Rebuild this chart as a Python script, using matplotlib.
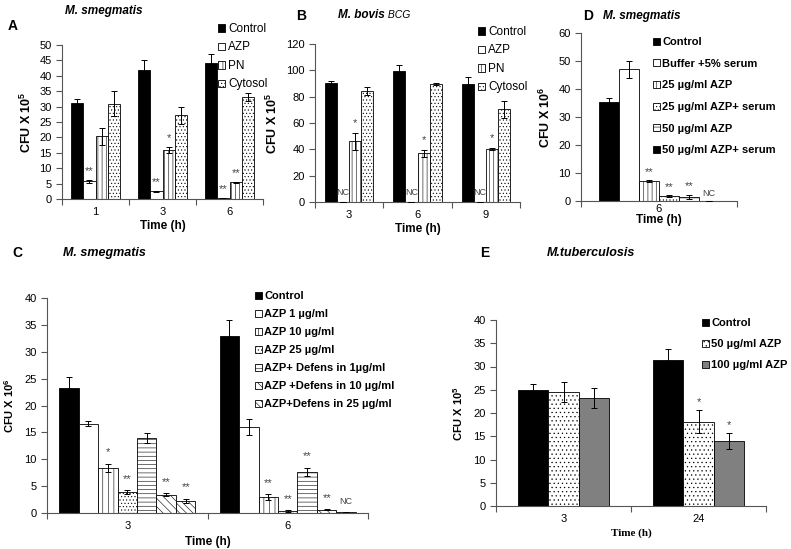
import numpy as np
import matplotlib
matplotlib.use("Agg")
import matplotlib.pyplot as plt

plt.rcParams['font.family'] = ['Liberation Sans', 'DejaVu Sans']
plt.rcParams['mathtext.fontset'] = 'custom'
plt.rcParams['mathtext.rm'] = 'Liberation Sans'
plt.rcParams['mathtext.bf'] = 'Liberation Sans:bold'
plt.rcParams['hatch.linewidth'] = 0.4

# ---------------- data ----------------
# A - M. smegmatis
a_times = ['1', '3', '6']
a_series = ['Control', 'AZP', 'PN', 'Cytosol']
a_vals = [[31.3, 42.0, 44.2], [5.8, 2.5, 0.3], [20.3, 15.8, 5.4], [31.0, 27.2, 33.2]]
a_errs = [[1.3, 3.0, 3.0], [0.5, 0.2, 0.0], [2.7, 1.0, 0.2], [4.2, 2.8, 1.3]]
a_sig = [['', '', ''], ['**', '**', '**'], ['', '*', '**'], ['', '', '']]

# B - M. bovis BCG
b_times = ['3', '6', '9']
b_series = ['Control', 'AZP', 'PN', 'Cytosol']
b_vals = [[90.5, 99.5, 89.5], [0, 0, 0], [46.0, 37.0, 40.3], [84.5, 89.5, 70.5]]
b_errs = [[1.5, 4.5, 5.5], [0, 0, 0], [6.5, 2.5, 0.5], [3.0, 1.0, 6.5]]
b_sig = [['', '', ''], ['NC', 'NC', 'NC'], ['*', '*', '*'], ['', '', '']]

# D - M. smegmatis, serum
d_times = ['6']
d_series = ['Control', 'Buffer +5% serum', '25 µg/ml AZP', '25 µg/ml AZP+ serum',
            '50 µg/ml AZP', '50 µg/ml AZP+ serum']
d_vals = [[35.5], [47.0], [7.2], [1.8], [1.5], [0]]
d_errs = [[1.3], [3.0], [0.3], [0.2], [0.7], [0]]
d_sig = [[''], [''], ['**'], ['**'], ['**'], ['NC']]

# C - M. smegmatis, defensin
c_times = ['3', '6']
c_series = ['Control', 'AZP 1 µg/ml', 'AZP 10 µg/ml', 'AZP 25 µg/ml',
            'AZP+ Defens in 1µg/ml', 'AZP +Defens in 10 µg/ml', 'AZP+Defens in 25 µg/ml']
c_vals = [[23.3, 33.0], [16.6, 16.0], [8.4, 3.0], [3.9, 0.3],
          [13.9, 7.6], [3.4, 0.6], [2.2, 0.1]]
c_errs = [[2.0, 3.0], [0.5, 1.4], [0.8, 0.5], [0.3, 0.2],
          [0.9, 0.8], [0.3, 0.1], [0.4, 0.0]]
c_sig = [['', ''], ['', ''], ['*', '**'], ['**', '**'], ['', '**'], ['**', '**'], ['**', 'NC']]

# E - M. tuberculosis
e_times = ['3', '24']
e_series = ['Control', '50 µg/ml AZP', '100 µg/ml AZP']
e_vals = [[25.0, 31.5], [24.5, 18.1], [23.2, 14.0]]
e_errs = [[1.2, 2.3], [2.1, 2.5], [2.1, 1.7]]
e_sig = [['', ''], ['', '*'], ['', '*']]

W, H = 791, 549
fig = plt.figure(figsize=(W / 100, H / 100), dpi=100)


def px_axes(l, t, r, b):
    return fig.add_axes([l / W, 1 - b / H, (r - l) / W, (b - t) / H])


def bar_panel(ax, times, series, vals, errs, sig, styles, frac, ymax, ystep, sig_pad):
    n = len(series)
    k = len(times)
    w = frac / n
    x = np.arange(k)
    for j in range(n):
        fc, hatch = styles[j]
        pos = x + (j - (n - 1) / 2) * w
        ax.bar(pos, vals[j], w, color=fc, edgecolor='black', hatch=hatch,
               linewidth=0.6, label=series[j], zorder=2)
        ax.errorbar(pos, vals[j], yerr=errs[j], fmt='none', ecolor='black',
                    elinewidth=0.7, capsize=2.5, capthick=0.7, zorder=3)
        for i in range(k):
            if sig[j][i]:
                nc = sig[j][i] == 'NC'
                ax.text(pos[i], vals[j][i] + errs[j][i] + sig_pad, sig[j][i],
                        ha='center', va='bottom', fontsize=6.5 if nc else 8,
                        color='#444444')
    ax.set_xlim(-0.5, k - 0.5)
    ax.set_ylim(0, ymax)
    ax.set_yticks(np.arange(0, ymax + 0.01, ystep))
    ax.set_xticks(np.arange(-0.5, k, 1.0))
    ax.set_xticklabels([])
    ax.set_xticks(x, minor=True)
    ax.set_xticklabels(times, minor=True)
    ax.tick_params(axis='x', which='major', length=4, direction='out', color='#555555')
    ax.tick_params(axis='x', which='minor', length=0, labelsize=8, pad=6)
    ax.tick_params(axis='y', length=4, labelsize=8, color='#555555')
    for s in ['top', 'right']:
        ax.spines[s].set_visible(False)
    for s in ['left', 'bottom']:
        ax.spines[s].set_color('#555555')
        ax.spines[s].set_linewidth(0.8)


def legend_at(ax, x, y, spacing, fontsize, bold=False):
    leg = ax.legend(loc='upper left', bbox_to_anchor=(x / W, 1 - y / H),
                    bbox_transform=fig.transFigure, frameon=False,
                    handlelength=0.6, handleheight=0.6, handletextpad=0.25,
                    labelspacing=spacing, fontsize=fontsize, borderaxespad=0,
                    borderpad=0)
    if bold:
        for t in leg.get_texts():
            t.set_fontweight('bold')
    return leg


black = ('black', None)
white = ('white', None)

# ---------------- A ----------------
axA = px_axes(62, 45, 263, 199)
bar_panel(axA, a_times, a_series, a_vals, a_errs, a_sig,
          [black, white, ('white', '||||'), ('white', '.....')], 0.74, 50, 5, 1.2)
axA.set_ylabel('CFU X 10$^{\\mathbf{5}}$', fontsize=9, fontweight='bold', labelpad=4)
axA.set_xlabel('Time (h)', fontsize=8.5, fontweight='bold', labelpad=2)
legend_at(axA, 218, 23, 0.55, 8.5)
fig.text(104 / W, 1 - 11 / H, 'M. smegmatis', fontsize=8.5, fontweight='bold',
         style='italic', ha='center', va='center')
fig.text(8 / W, 1 - 26 / H, 'A', fontsize=10, fontweight='bold', va='center')

# ---------------- B ----------------
axB = px_axes(315, 44, 520, 202)
bar_panel(axB, b_times, b_series, b_vals, b_errs, b_sig,
          [black, white, ('white', '||||'), ('white', '.....')], 0.71, 120, 20, 4.0)
axB.set_ylabel('CFU X 10$^{\\mathbf{5}}$', fontsize=9, fontweight='bold', labelpad=4)
axB.set_xlabel('Time (h)', fontsize=8.5, fontweight='bold', labelpad=2)
legend_at(axB, 478, 26, 0.55, 8.5)
fig.text(301 / W, 1 - 16 / H, 'B', fontsize=10, fontweight='bold', va='center', ha='center')
tb = fig.text(338 / W, 1 - 15 / H, 'M. bovis', fontsize=8.5, fontweight='bold',
              style='italic', va='center')
axB.annotate(' BCG', xy=(1, 0.5), xycoords=tb, va='center', fontsize=7.5, style='italic')

# ---------------- D ----------------
axD = px_axes(581, 33, 737, 201)
bar_panel(axD, d_times, d_series, d_vals, d_errs, d_sig,
          [black, white, ('white', '||||'), ('white', '.....'), ('white', '----'), black],
          0.77, 60, 10, 1.2)
axD.set_ylabel('CFU X 10$^{\\mathbf{6}}$', fontsize=9, fontweight='bold', labelpad=4)
axD.set_xlabel('Time (h)', fontsize=8.5, fontweight='bold', labelpad=0)
axD.tick_params(axis='x', which='minor', pad=2)
legend_at(axD, 653, 37, 1.05, 8, bold=True)
fig.text(588 / W, 1 - 16 / H, 'D', fontsize=10, fontweight='bold', va='center', ha='center')
fig.text(603 / W, 1 - 16 / H, 'M. smegmatis', fontsize=8.5, fontweight='bold',
         style='italic', va='center')

# ---------------- C ----------------
axC = px_axes(47, 298, 368, 513)
bar_panel(axC, c_times, c_series, c_vals, c_errs, c_sig,
          [black, white, ('white', '|||'), ('white', '.....'), ('white', '----'),
           ('white', '\\\\\\\\'), ('white', '\\\\\\\\\\')], 0.85, 40, 5, 1.2)
axC.set_ylabel('CFU X 10$^{\\mathbf{6}}$', fontsize=8, fontweight='bold', labelpad=6)
axC.set_xlabel('Time (h)', fontsize=8.5, fontweight='bold', labelpad=3)
legend_at(axC, 255, 291, 0.72, 8, bold=True)
fig.text(12 / W, 1 - 253 / H, 'C', fontsize=10, fontweight='bold', va='center')
fig.text(63 / W, 1 - 253 / H, 'M. smegmatis', fontsize=9, fontweight='bold',
         style='italic', va='center')

# ---------------- E ----------------
axE = px_axes(496, 320, 766, 506)
bar_panel(axE, e_times, e_series, e_vals, e_errs, e_sig,
          [black, ('white', '....'), ('#808080', None)], 0.67, 40, 5, 0.6)
axE.set_ylabel('CFU X 10$^{\\mathbf{5}}$', fontsize=8, fontweight='bold', labelpad=6)
axE.set_xlabel('Time (h)', fontsize=8, fontweight='bold', labelpad=3,
               family=['Liberation Serif', 'DejaVu Serif'])
legend_at(axE, 702, 318, 1.0, 8, bold=True)
fig.text(485 / W, 1 - 253 / H, 'E', fontsize=10, fontweight='bold', va='center', ha='center')
fig.text(547 / W, 1 - 253 / H, 'M.tuberculosis', fontsize=9, fontweight='bold',
         style='italic', va='center')

fig.savefig('out.png', dpi=100)
